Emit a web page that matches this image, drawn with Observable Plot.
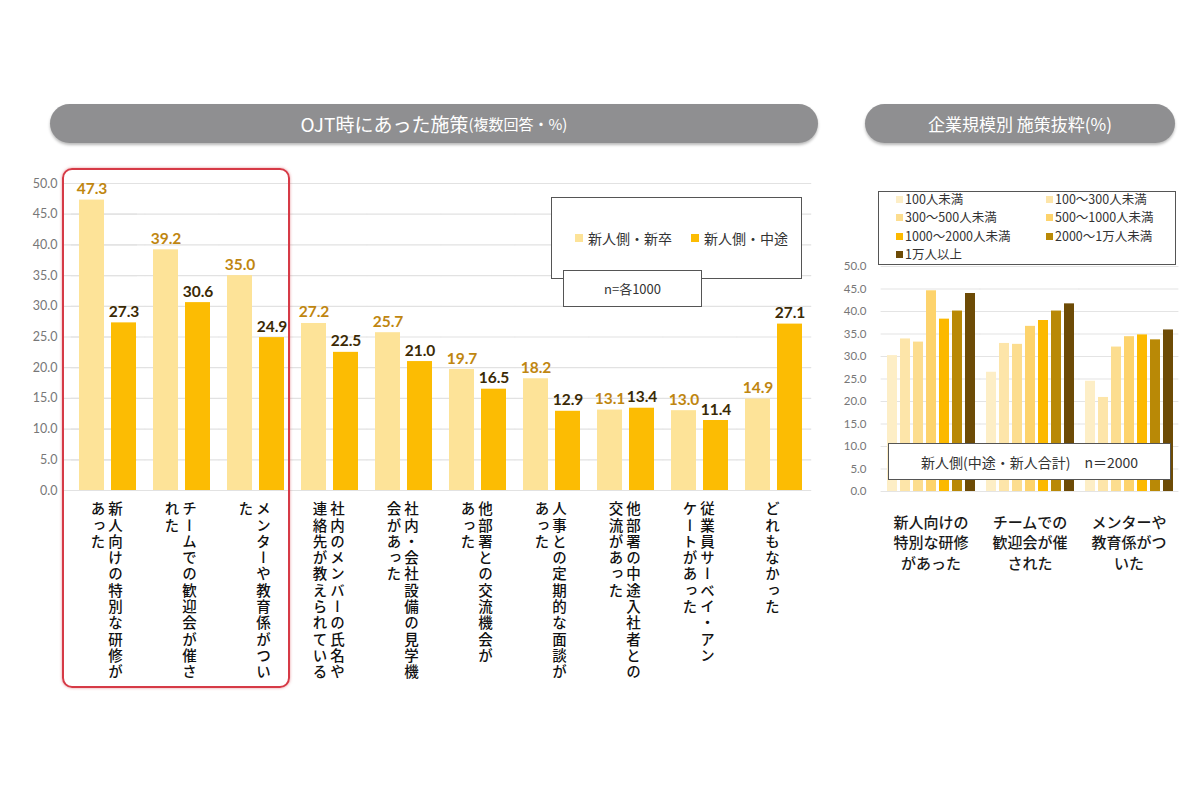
<!DOCTYPE html>
<html>
<head>
<meta charset="utf-8">
<script src="https://cdn.jsdelivr.net/npm/d3@7"></script>
<script src="https://cdn.jsdelivr.net/npm/@observablehq/plot@0.6"></script>
<style>
  body { margin: 0; background: #fff; font-family: "Noto Sans CJK JP", "Noto Sans", sans-serif; }
  #page { position: relative; width: 1200px; height: 800px; overflow: hidden; background: #fff; }
  .pill { position: absolute; background: #8f8f91; color: #fff; border-radius: 20px; display: flex; align-items: center; justify-content: center; box-shadow: 0 2px 3px rgba(0,0,0,0.28); white-space: nowrap; }
  .box { position: absolute; border: 1.5px solid #555; background: #fff; box-sizing: border-box; }
  .abs { position: absolute; }
  .sw { position: absolute; width: 8px; height: 8px; }
  .lg { position: absolute; font-size: 14px; color: #333; line-height: 1; white-space: nowrap; }
  .lg2 { position: absolute; font-size: 12.5px; color: #333; line-height: 1; white-space: nowrap; }
  #redbox { position: absolute; left: 62px; top: 168px; width: 228px; height: 520px; border: 2px solid #d63a46; border-radius: 10px; box-sizing: border-box; box-shadow: 0 0 3px rgba(214,58,70,0.55); }
</style>
</head>
<body>
<div id="page">
  <div class="pill" style="left:50px;top:104px;width:768px;height:39px;">
    <span style="font-size:19px;">OJT時にあった施策</span><span style="font-size:15px;">(複数回答・%)</span>
  </div>
  <div class="pill" style="left:865px;top:104px;width:310px;height:39px;">
    <span style="font-size:17px;">企業規模別&nbsp;施策抜粋(%)</span>
  </div>
  <div id="leftChart" class="abs" style="left:0px;top:160px;"></div>
  <div id="rightChart" class="abs" style="left:840px;top:250px;"></div>
  <div id="redbox"></div>
  <div id="leftLegend"></div>
  <div id="rightLegend"></div>
</div>
<script>
// ---------- Data ----------
const categories = [
  "新人向けの特別な研修があった",
  "チームでの歓迎会が催された",
  "メンターや教育係がついた",
  "社内のメンバーの氏名や連絡先が教えられている",
  "社内・会社設備の見学機会があった",
  "他部署との交流機会があった",
  "人事との定期的な面談があった",
  "他部署の中途入社者との交流があった",
  "従業員サーベイ・アンケートがあった",
  "どれもなかった"
];
const labelColumns = [
  ["新人向けの特別な研修が", "あった"],
  ["チームでの歓迎会が催さ", "れた"],
  ["メンターや教育係がつい", "た"],
  ["社内のメンバーの氏名や", "連絡先が教えられている"],
  ["社内・会社設備の見学機", "会があった"],
  ["他部署との交流機会が", "あった"],
  ["人事との定期的な面談が", "あった"],
  ["他部署の中途入社者との", "交流があった"],
  ["従業員サーベイ・アン", "ケートがあった"],
  ["どれもなかった"]
];
const seriesNames = ["新人側・新卒", "新人側・中途"];
const shinsotsu = [47.3, 39.2, 35.0, 27.2, 25.7, 19.7, 18.2, 13.1, 13.0, 14.9];
const chuto =     [27.3, 30.6, 24.9, 22.5, 21.0, 16.5, 12.9, 13.4, 11.4, 27.1];
const yTicks = [0, 5, 10, 15, 20, 25, 30, 35, 40, 45, 50];
const leftNote = "n=各1000";

const sizeCategories = ["新人向けの特別な研修があった", "チームでの歓迎会が催された", "メンターや教育係がついた"];
const sizeLabels = ["新人向けの\n特別な研修\nがあった", "チームでの\n歓迎会が催\nされた", "メンターや\n教育係がつ\nいた"];
const sizeNames = ["100人未満", "100～300人未満", "300～500人未満", "500～1000人未満", "1000～2000人未満", "2000～1万人未満", "1万人以上"];
const kenshuBySize =    [30.2, 33.9, 33.2, 44.6, 38.3, 40.1, 44.0];
const kangeikaiBySize = [26.5, 32.9, 32.7, 36.7, 38.0, 40.1, 41.7];
const mentorBySize =    [24.5, 20.9, 32.1, 34.4, 34.8, 33.7, 35.9];
const rightNote = "新人側(中途・新人合計)　n＝2000";

// ---------- Styles ----------
const seriesColors = ["#fde398", "#fcbc03"];
const valueTextColors = ["#bf8610", "#3b2a05"];
const sizeColors = ["#fdeec6", "#fde5a9", "#fcdd8f", "#fdd36c", "#fcb900", "#b98906", "#6d4b06"];
const numFont = "Lato, 'Noto Sans', sans-serif";
const jpFont = "'Noto Sans CJK JP', sans-serif";

// ---------- Left chart ----------
const ojt = categories.flatMap((c, i) => [
  {cat: c, series: seriesNames[0], value: shinsotsu[i]},
  {cat: c, series: seriesNames[1], value: chuto[i]}
]);
const labelRows = categories.flatMap((c, i) =>
  labelColumns[i].map((t, j) => ({cat: c, text: t, col: j, n: labelColumns[i].length})));
const gridLeft = categories.flatMap(c => yTicks.map(t => ({cat: c, y: t})));

const vlabel = (rows, dx) => Plot.text(rows, {
  fx: "cat", text: "text", frameAnchor: "bottom", lineAnchor: "bottom", textAnchor: "start",
  dy: 11, dx, fontSize: 14.5, fill: "#111", fontFamily: jpFont, fontWeight: 500, ariaDescription: "vlabel"
});

const left = Plot.plot({
  width: 820, height: 535,
  marginLeft: 70, marginRight: 8, marginTop: 23, marginBottom: 205,
  style: {background: "transparent"},
  fx: {domain: categories, paddingInner: 0.216, paddingOuter: 0.104, axis: null, label: null},
  x: {domain: seriesNames, paddingInner: 0.207, paddingOuter: 0, axis: null},
  y: {domain: [0, 50], axis: null},
  color: {domain: seriesNames, range: seriesColors},
  marks: [
    Plot.ruleY(gridLeft, {fx: "cat", y: "y", stroke: "#e2e2e2", strokeWidth: 1.2, insetLeft: -8.2, insetRight: -8.2}),
    Plot.ruleY(gridLeft.filter(d => d.cat === categories[0]), {fx: "cat", y: "y", stroke: "#e2e2e2", strokeWidth: 1.2, insetLeft: -16, insetRight: 0}),
    Plot.axisY(yTicks, {tickFormat: d => d.toFixed(1), tickSize: 0, tickPadding: 22, fontSize: 12.5, fill: "#777", fontFamily: numFont, label: null}),
    Plot.barY(ojt, {fx: "cat", x: "series", y: "value", fill: "series"}),
    Plot.text(ojt.filter(d => d.series === seriesNames[0]), {fx: "cat", x: "series", y: "value", text: d => d.value.toFixed(1), lineAnchor: "bottom", dy: -6, fill: valueTextColors[0], fontWeight: "bold", fontSize: 15.5, fontFamily: numFont}),
    Plot.text(ojt.filter(d => d.series === seriesNames[1]), {fx: "cat", x: "series", y: "value", text: d => d.value.toFixed(1), lineAnchor: "bottom", dy: -6, fill: valueTextColors[1], fontWeight: "bold", fontSize: 15.5, fontFamily: numFont}),
    vlabel(labelRows.filter(d => d.n === 1), -2),
    vlabel(labelRows.filter(d => d.n === 2 && d.col === 0), 7),
    vlabel(labelRows.filter(d => d.n === 2 && d.col === 1), -10.5)
  ]
});
d3.select(left).selectAll('[aria-description="vlabel"] text')
  .attr("y", null)
  .attr("text-anchor", "start")
  .style("writing-mode", "vertical-rl")
  .style("letter-spacing", "1.8px");
document.getElementById("leftChart").appendChild(left);

// ---------- Right chart ----------
const sizeSeries = [kenshuBySize, kangeikaiBySize, mentorBySize];
const sizeData = sizeCategories.flatMap((c, i) => sizeNames.map((s, j) => ({cat: c, size: s, value: sizeSeries[i][j]})));
const sizeLabelRows = sizeCategories.map((c, i) => ({cat: c, text: sizeLabels[i]}));
const gridRight = sizeCategories.flatMap(c => yTicks.map(t => ({cat: c, y: t})));

const right = Plot.plot({
  width: 360, height: 341,
  marginLeft: 40, marginRight: 22, marginTop: 16, marginBottom: 100,
  style: {background: "transparent"},
  fx: {domain: sizeCategories, paddingInner: 0.065, paddingOuter: 0.03, axis: null, label: null},
  x: {domain: sizeNames, paddingInner: 0.25, paddingOuter: 0, axis: null},
  y: {domain: [0, 50], axis: null},
  color: {domain: sizeNames, range: sizeColors},
  marks: [
    Plot.ruleY(gridRight, {fx: "cat", y: "y", stroke: "#e4e4e4", strokeWidth: 1.2, insetLeft: -3.4, insetRight: -3.4}),
    Plot.axisY(yTicks, {tickFormat: d => d.toFixed(1), tickSize: 0, tickPadding: 18, fontSize: 11.5, fill: "#777", fontFamily: numFont, label: null}),
    Plot.barY(sizeData, {fx: "cat", x: "size", y: "value", fill: "size"}),
    Plot.text(sizeLabelRows, {fx: "cat", text: "text", frameAnchor: "bottom", lineAnchor: "top", dy: 22, fontSize: 15, lineHeight: 1.36, fill: "#1a1a1a", fontFamily: jpFont, fontWeight: 500})
  ]
});
document.getElementById("rightChart").appendChild(right);

// ---------- Legends / notes (HTML) ----------
const ll = document.getElementById("leftLegend");
ll.innerHTML = `
  <div class="box" style="left:551px;top:197px;width:251px;height:82px;"></div>
  <div class="sw" style="left:575px;top:234px;background:${seriesColors[0]}"></div>
  <div class="lg" style="left:588px;top:231px;">${seriesNames[0]}</div>
  <div class="sw" style="left:691px;top:234px;background:${seriesColors[1]}"></div>
  <div class="lg" style="left:704px;top:231px;">${seriesNames[1]}</div>
  <div class="box" style="left:563px;top:270px;width:139px;height:37px;display:flex;align-items:center;justify-content:center;font-size:13px;color:#333;">${leftNote}</div>
`;
const rl = document.getElementById("rightLegend");
let html = `<div class="box" style="left:878px;top:191px;width:298px;height:74px;"></div>`;
sizeNames.forEach((s, i) => {
  const col = i % 2, row = Math.floor(i / 2);
  const x = col === 0 ? 896 : 1046;
  const y = 196 + row * 18.3;
  html += `<div class="sw" style="left:${x}px;top:${y}px;width:7px;height:7px;background:${sizeColors[i]}"></div>`;
  html += `<div class="lg2" style="left:${x + 9}px;top:${y - 3}px;">${s}</div>`;
});
html += `<div class="box" style="left:888px;top:443px;width:283px;height:37px;display:flex;align-items:center;justify-content:center;font-size:14px;color:#333;">${rightNote}</div>`;
rl.innerHTML = html;
</script>
</body>
</html>
